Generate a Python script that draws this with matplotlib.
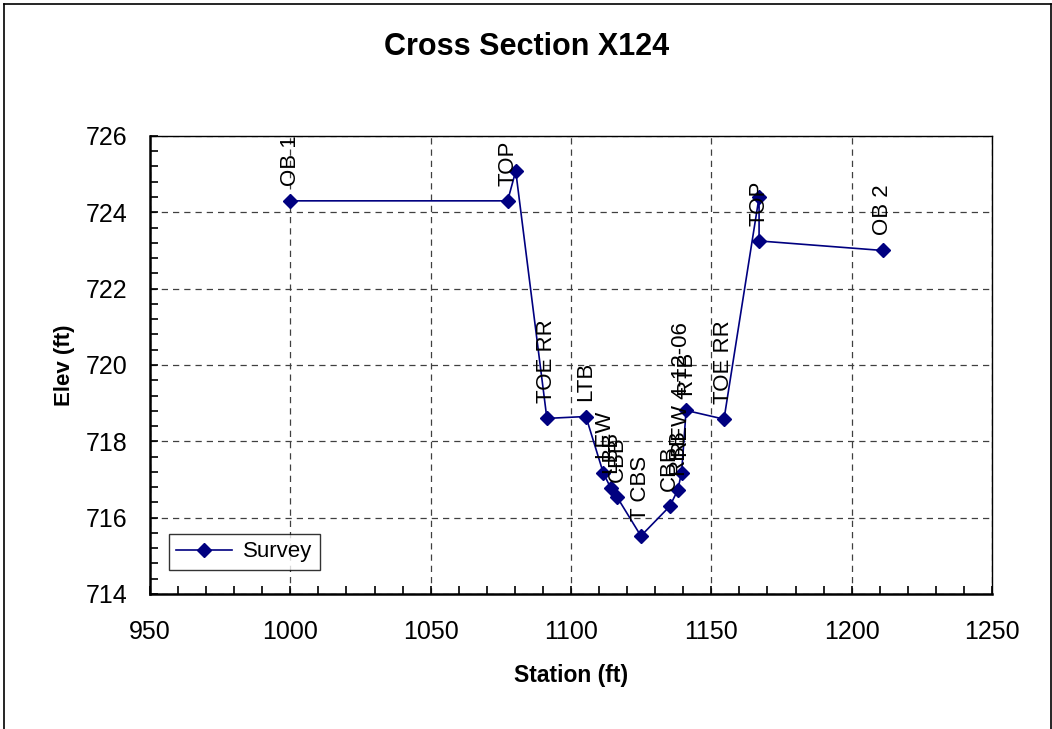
import matplotlib
matplotlib.use("Agg")
import matplotlib.pyplot as plt
from matplotlib.lines import Line2D
from matplotlib.ticker import MultipleLocator

# ----------------------------------------------------------------------
# Survey data
# ----------------------------------------------------------------------
station = [1000, 1077.4, 1080.3, 1091.4, 1105.3, 1111.5, 1114.2, 1116.4, 1124.9,
           1135.2, 1138.0, 1139.4, 1141.0, 1154.5, 1167.0, 1167.0, 1211.0]
elev = [724.3, 724.3, 725.08, 718.6, 718.65, 717.17, 716.77, 716.54, 715.52,
        716.3, 716.72, 717.18, 718.81, 718.58, 724.4, 723.25, 723.0]
point_labels = ["OB 1", "TOP", "", "TOE RR", "LTB", "LEW", "LBB", "CBB", "T CBS",
                "CBB", "RBB", "REW 4-12-06", "RTB", "TOE RR", "", "TOP", "OB 2"]

NAVY = "#000080"
FONT = "Liberation Sans"

plt.rcParams["font.family"] = FONT

fig = plt.figure(figsize=(10.52, 7.29), dpi=100)
fig.patch.set_facecolor("white")

# outer chart border
for xs, ys in [([0.0038, 0.0038], [0.0, 0.9945]),
               ([0.0038, 0.999], [0.9945, 0.9945]),
               ([0.999, 0.999], [0.0, 0.9945])]:
    fig.add_artist(Line2D(xs, ys, transform=fig.transFigure, color="black", lw=1.2))

ax = fig.add_axes([0.1426, 0.1852, 0.8004, 0.6283])

ax.plot(station, elev, color=NAVY, lw=1.2, marker="D", ms=7.5,
        mfc=NAVY, mec=NAVY, label="Survey", zorder=3)

for x, y, t in zip(station, elev, point_labels):
    if t:
        ax.annotate(t, (x, y), xytext=(0, 11), textcoords="offset points",
                    rotation=90, ha="center", va="bottom", fontsize=16,
                    color="black", annotation_clip=False, zorder=4)

ax.set_xlim(950, 1250)
ax.set_ylim(714, 726)
ax.xaxis.set_major_locator(MultipleLocator(50))
ax.xaxis.set_minor_locator(MultipleLocator(10))
ax.yaxis.set_major_locator(MultipleLocator(2))
ax.yaxis.set_minor_locator(MultipleLocator(0.4))

ax.grid(True, which="major", color="#404040", ls=(0, (5, 4)), lw=0.9)
ax.tick_params(which="both", direction="in", top=False, right=False,
               labelsize=18, width=1.2, length=6)
ax.tick_params(axis="x", which="both", pad=19)
ax.tick_params(axis="y", which="both", pad=16)

for side in ["left", "bottom"]:
    ax.spines[side].set_linewidth(1.8)
for side in ["top", "right"]:
    ax.spines[side].set_linewidth(1.0)

ax.set_xlabel("Station (ft)", fontsize=16.5, fontweight="bold", labelpad=14)
ax.set_ylabel("Elev (ft)", fontsize=16, fontweight="bold", labelpad=8)

fig.text(0.501, 0.935, "Cross Section X124", ha="center", va="center",
         fontsize=22, fontweight="bold")

leg = ax.legend(loc="lower left", bbox_to_anchor=(0.022, 0.052), fontsize=16,
                frameon=True, fancybox=False, handlelength=2.5,
                borderpad=0.35, handletextpad=0.5, borderaxespad=0)
leg.get_frame().set_edgecolor("black")
leg.get_frame().set_linewidth(1.0)

fig.savefig("out.png", dpi=100)
